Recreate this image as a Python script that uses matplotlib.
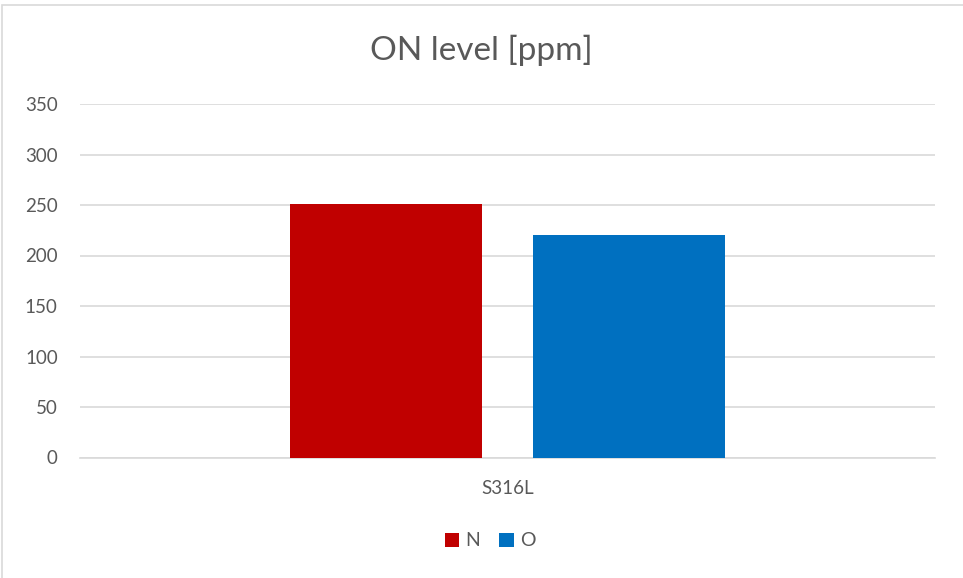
import matplotlib.pyplot as plt
from matplotlib.patches import Rectangle

# ON analysis, one grade
categories = ['S316L']
series = ['N', 'O']
values = {'N': [251], 'O': [220]}
colors = {'N': '#C00000', 'O': '#0070C0'}

plt.rcParams['font.family'] = ['Lato', 'DejaVu Sans']
text_color = '#595959'
grid_color = '#D9D9D9'

fig = plt.figure(figsize=(9.63, 5.78), dpi=100)
ax = fig.add_axes([80 / 963, 1 - 457.5 / 578, 855 / 963, (457.5 - 104) / 578])

width = 0.2246
offsets = [-0.142, 0.142]
for s, off in zip(series, offsets):
    xs = [i + off for i in range(len(categories))]
    ax.bar(xs, values[s], width=width, color=colors[s], label=s, zorder=3)

ax.set_xlim(-0.5, len(categories) - 0.5)
ax.set_ylim(0, 350)
ax.set_yticks(range(0, 351, 50))
ax.set_xticks(range(len(categories)))
ax.set_xticklabels(categories)
ax.yaxis.grid(True, color=grid_color, linewidth=1.2, zorder=0)
ax.tick_params(axis='both', length=0, labelsize=13.5, colors=text_color)
ax.tick_params(axis='y', pad=16)
ax.tick_params(axis='x', pad=16)
for side in ['left', 'right', 'top']:
    ax.spines[side].set_visible(False)
ax.spines['bottom'].set_color(grid_color)
ax.spines['bottom'].set_linewidth(1.2)

fig.text(0.5, 1 - 50 / 578, 'ON level [ppm]', ha='center', va='center',
         fontsize=24, color=text_color)

leg = fig.legend(loc='center', bbox_to_anchor=(490 / 963, 1 - 541 / 578), ncol=2,
                 frameon=False, fontsize=14, handlelength=0.75, handleheight=0.75,
                 handletextpad=0.3, columnspacing=1.0, labelcolor=text_color)

# chart border
fig.patches.append(Rectangle((2 / 963, -0.01), 1.0, 1 - 5 / 578 + 0.01,
                             transform=fig.transFigure, fill=False,
                             edgecolor=grid_color, linewidth=1.2))

fig.savefig('out.png', dpi=100)
